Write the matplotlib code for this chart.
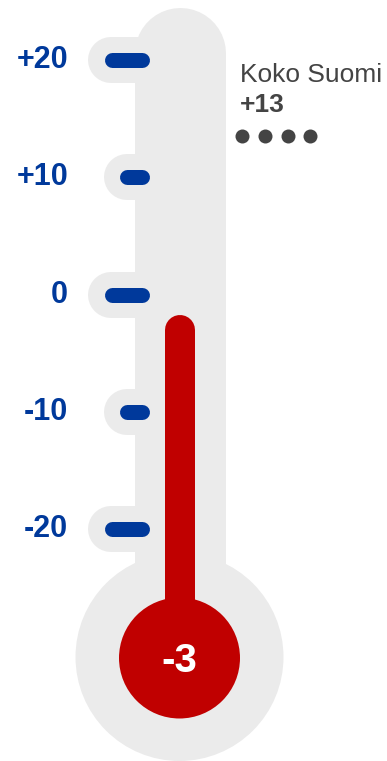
import matplotlib.pyplot as plt
from matplotlib.patches import Ellipse

plt.rcParams['font.family'] = ['Liberation Sans', 'DejaVu Sans']

# data
ticks = [20, 10, 0, -10, -20]
tick_labels = ['+20', '+10', '0', '-10', '-20']
major = [True, False, True, False, True]
value = -3
region = 'Koko Suomi'
region_value = 13
region_dots = 4

GRAY = '#ebebeb'
BLUE = '#00399b'
RED = '#c00000'
DARK = '#444444'

W, H = 387, 761
PX = 11.725     # pixels per degree
ZERO = 294.5    # pixel row of 0 degrees
CX = 179.5      # thermometer centre line


def t(ypx):
    # pixel row (from top) -> temperature
    return (ZERO - ypx) / PX


def pt(px):
    return px * 72 / 100


fig = plt.figure(figsize=(W / 100, H / 100), dpi=100)
ax = fig.add_axes([0, 0, 1, 1])
ax.set_xlim(0, W)
ax.set_ylim(t(H), t(0))
ax.axis('off')

bulb_y = t(657)

# gray body
ax.add_patch(Ellipse((CX, bulb_y), 208, 208 / PX, color=GRAY, lw=0, zorder=1))
ax.plot([CX, CX], [t(52.5), bulb_y], color=GRAY, lw=pt(91),
        solid_capstyle='round', zorder=1)

# tick pills and marks
for tk, lab, mj in zip(ticks, tick_labels, major):
    left = 88 if mj else 104
    ax.plot([left + 23, CX], [tk, tk], color=GRAY, lw=pt(46),
            solid_capstyle='round', zorder=2)
    x0 = 104 if mj else 119
    ax.plot([x0 + 7.5, 149 - 7.5], [tk, tk], color=BLUE, lw=pt(15),
            solid_capstyle='round', zorder=3)
    ax.text(68, tk, lab, ha='right', va='center', color=BLUE,
            fontsize=22, fontweight='bold', zorder=3)

# mercury
ax.plot([CX, CX], [bulb_y, value], color=RED, lw=pt(30),
        solid_capstyle='round', zorder=4)
ax.add_patch(Ellipse((CX, t(658)), 121, 121 / PX, color=RED, lw=0, zorder=4))
ax.text(CX, t(661), f'{value}', ha='center', va='center', color='white',
        fontsize=29, fontweight='bold', zorder=5)

# national comparison
ax.text(240, t(82), region, ha='left', va='baseline', color=DARK, fontsize=19)
ax.text(240, t(112), f'+{region_value}', ha='left', va='baseline', color=DARK,
        fontsize=19, fontweight='bold')
ax.scatter([242 + 22.8 * i for i in range(region_dots)], [t(135.5)] * region_dots,
           s=pt(14) ** 2, color=DARK, lw=0)

fig.savefig('out.png', dpi=100)
